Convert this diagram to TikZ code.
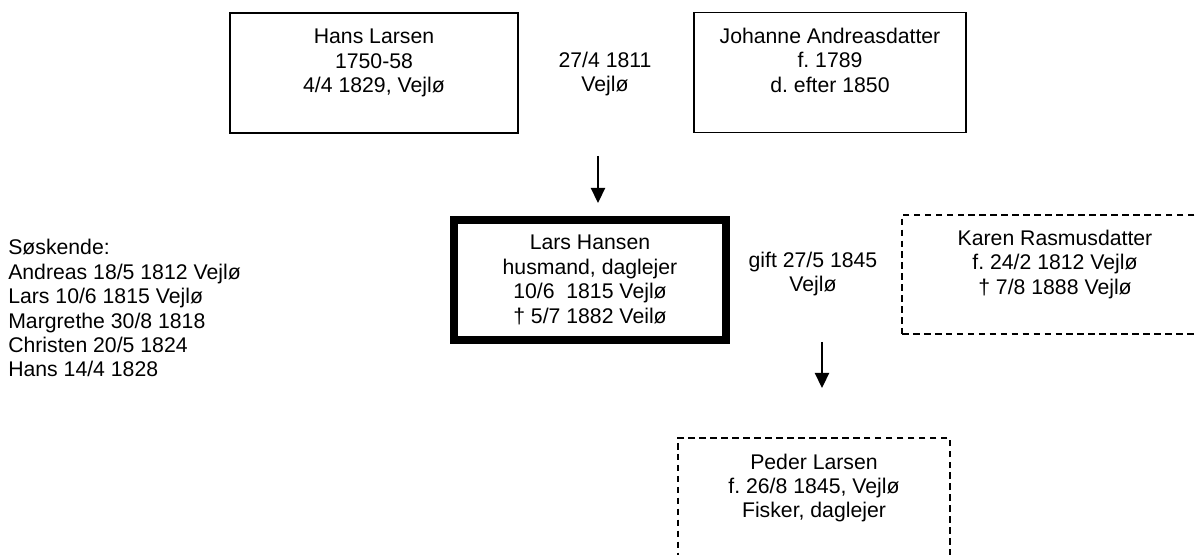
\documentclass[tikz,border=0pt]{standalone}
\usepackage{fontspec}
\setmainfont{Liberation Sans}
\usetikzlibrary{positioning,arrows.meta}
\frenchspacing

\tikzset{
  person/.style={draw, line width=1pt, minimum width=6.8cm, minimum height=3cm, align=center},
  unsure/.style={person, dash pattern=on 4.7pt off 3.1pt},
  childarrow/.style={-{Triangle[length=0.38cm,width=0.36cm]}, line width=1pt}
}

\begin{document}
\begin{tikzpicture}[font=\fontsize{15.1}{17.4}\selectfont]
  \useasboundingbox (0,0) rectangle (29.9,13.85);
  \clip (0,0) rectangle (29.9,13.85);

  \node[person, minimum width=7.2cm] (hans) at (9.35,12.025) {Hans Larsen\\1750-58\\4/4 1829, Vejlø\\\mbox{}};
  \node[person] (johanne) at (20.75,12.04) {Johanne Andreasdatter\\f. 1789\\d. efter 1850\\\mbox{}};
  \node[align=center] (wed1) at (15.125,12.0) {27/4 1811\\Vejlø};

  \node[person, line width=0.2cm] (lars) at (14.75,6.85) {Lars Hansen\\husmand, daglejer\\10/6\ \ 1815 Vejlø\\† 5/7 1882 Veilø};
  \node[align=center] (wed2) at (20.325,7.0) {gift 27/5 1845\\Vejlø};
  \node[unsure, minimum width=7.65cm, minimum height=2.975cm] (karen) at (26.375,6.99) {Karen Rasmusdatter\\f. 24/2 1812 Vejlø\\† 7/8 1888 Vejlø\\\mbox{}};
  \node[unsure] (peder) at (20.35,1.4) {Peder Larsen\\f. 26/8 1845, Vejlø\\Fisker, daglejer\\\mbox{}};

  \node[anchor=north west, align=left, inner sep=0pt] (siblings) at (0.2,7.875) {Søskende:\\Andreas 18/5 1812 Vejlø\\Lars 10/6 1815 Vejlø\\Margrethe 30/8 1818\\Christen 20/5 1824\\Hans 14/4 1828};

  \coordinate (from1) at (14.95,9.95);
  \coordinate (to1) at (14.95,8.775);
  \draw[childarrow] (from1) -- (to1);
  \coordinate (from2) at (20.55,5.3);
  \coordinate (to2) at (20.55,4.15);
  \draw[childarrow] (from2) -- (to2);
\end{tikzpicture}
\end{document}
